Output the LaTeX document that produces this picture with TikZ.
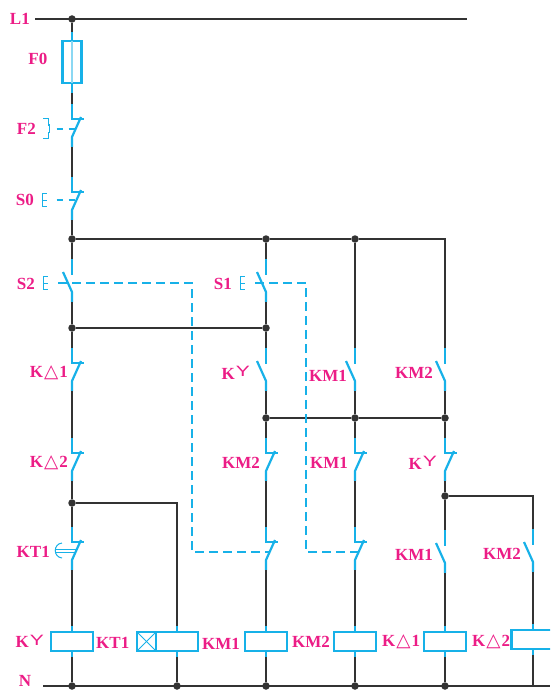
\documentclass[tikz,border=0pt]{standalone}
\usepackage{fontspec}
\usepackage{xcolor}
\usetikzlibrary{positioning}
\setmainfont{Liberation Serif}
\newfontfamily\trifont{DejaVu Sans}
\newfontfamily\wyefont{Liberation Sans}
\definecolor{wirecol}{HTML}{333333}
\definecolor{symcol}{HTML}{17B1E8}
\definecolor{lblcol}{HTML}{EC1C86}
\newcommand{\wye}{\hspace{1pt}\raisebox{2.5pt}{\scalebox{1.4}[1]{\fontsize{15}{15}\wyefont\mdseries Y}}}
\newcommand{\tri}{{\hspace{1pt}\fontsize{18.5}{18}\trifont\mdseries △\hspace{1pt}}}
\tikzset{
  wire/.style={draw=wirecol,line width=2.2pt},
  sym/.style={draw=symcol,line width=2.2pt},
  thinsym/.style={draw=symcol,line width=1pt},
  link/.style={draw=symcol,line width=1.1pt,dash pattern=on 9pt off 5pt},
  shortlink/.style={draw=symcol,line width=1.1pt,dash pattern=on 6pt off 6pt},
  dot/.style={circle,fill=wirecol,inner sep=0pt,minimum size=7.5pt},
  coil/.style={rectangle,sym,fill=white,minimum width=42pt,minimum height=19pt,inner sep=0pt,outer sep=0pt},
  lbl/.style={text=lblcol,inner sep=0pt,font=\fontsize{17}{18}\selectfont\bfseries},
  ncontact/.pic={
    \draw[sym] (0,0) -- (0,15) -- (12,15);
    \draw[sym] (9,13) -- (0,33) -- (0,43);
    \coordinate (-top) at (0,0);
    \coordinate (-bot) at (0,43);
    \coordinate (-mid) at (0,25);
    \coordinate (-link) at (4,25);
  },
  ocontact/.pic={
    \draw[sym] (0,0) -- (0,16);
    \draw[sym] (-9,13) -- (0,33) -- (0,43);
    \coordinate (-top) at (0,0);
    \coordinate (-bot) at (0,43);
    \coordinate (-mid) at (0,25);
    \coordinate (-link) at (-4,25);
  },
  button/.pic={
    \draw[thinsym] (4.5,-6.5) -- (0,-6.5) -- (0,6.5) -- (4.5,6.5);
    \draw[thinsym] (0,0) -- (4.5,0);
    \coordinate (-link) at (15,0);
  },
}
\begin{document}
\begin{tikzpicture}[x=1pt,y=-1pt]
  \clip[use as bounding box] (0,0) rectangle (550,690);
  \node[dot] (jL) at (72,19) {};
  \node[dot] (j1) at (72,239) {};
  \node[dot] (j2) at (266,239) {};
  \node[dot] (j3) at (355,239) {};
  \node[dot] (j4) at (72,328) {};
  \node[dot] (j5) at (266,328) {};
  \node[dot] (j6) at (266,418) {};
  \node[dot] (j7) at (355,418) {};
  \node[dot] (j8) at (445,418) {};
  \node[dot] (j9) at (445,496) {};
  \node[dot] (j10) at (72,503) {};
  \node[dot] (n1) at (72,686) {};
  \node[dot] (n2) at (177,686) {};
  \node[dot] (n3) at (266,686) {};
  \node[dot] (n4) at (355,686) {};
  \node[dot] (n5) at (445,686) {};
  \coordinate (n6) at (533,686);
  \coordinate (Lstart) at (35,19);
  \coordinate (Lend) at (467,19);
  \coordinate (Nstart) at (43,686);
  \coordinate (Nend) at (550,686);

  \node[rectangle,sym,minimum width=19pt,minimum height=42pt,inner sep=0pt,outer sep=0pt] (fuse) at (72,62) {};
  \draw[draw=symcol!50,line width=1.5pt] (fuse.north) -- (fuse.south);
  \draw[sym] (fuse.north) -- ++(0,-9) coordinate (fusetop);
  \draw[sym] (fuse.south) -- ++(0,10) coordinate (fusebot);

  \pic (f2) at (72,104) {ncontact};
  \pic (s0) at (72,177) {ncontact};
  \pic (s2) at (72,259) {ocontact};
  \pic (s1) at (266,259) {ocontact};
  \pic (ka1) at (72,348) {ncontact};
  \pic (ky1) at (266,348) {ocontact};
  \pic (km1a) at (355,348) {ocontact};
  \pic (km2a) at (445,348) {ocontact};
  \pic (ka2) at (72,438) {ncontact};
  \pic (km2b) at (266,438) {ncontact};
  \pic (km1b) at (355,438) {ncontact};
  \pic (ky2) at (445,438) {ncontact};
  \pic (kt1) at (72,527) {ncontact};
  \pic (km2c) at (266,527) {ncontact};
  \pic (km1c) at (355,527) {ncontact};
  \pic (km1d) at (445,530) {ocontact};
  \pic (km2d) at (533,529) {ocontact};

  \node[coil] (coil1) at (72,641.5) {};
  \node[coil] (coil2) at (177,641.5) {};
  \node[coil] (coil3) at (266,641.5) {};
  \node[coil] (coil4) at (355,641.5) {};
  \node[coil] (coil5) at (445,641.5) {};
  \node[coil,minimum width=43pt] (coil6) at (533,639.5) {};
  \node[coil,minimum width=19pt] (timer) [left = 0pt of coil2] {};
  \draw[thinsym] (timer.north west) -- (timer.south east);
  \draw[thinsym] (timer.south west) -- (timer.north east);
  \foreach \n in {coil1,coil2,coil3,coil4,coil5,coil6} {
    \draw[sym] (\n.north) -- ++(0,-6) coordinate (\n top);
    \draw[sym] (\n.south) -- ++(0,6) coordinate (\n bot);
  }

  \draw[wire] (Lstart) -- (Lend);
  \draw[wire] (Nstart) -- (Nend);
  \draw[wire] (jL) -- (fusetop);
  \draw[wire] (fusebot) -- (f2-top);
  \draw[wire] (f2-bot) -- (s0-top);
  \draw[wire] (s0-bot) -- (j1);
  \draw[wire] (j1) -- (s2-top);
  \draw[wire] (s2-bot) -- (j4);
  \draw[wire] (j4) -- (ka1-top);
  \draw[wire] (ka1-bot) -- (ka2-top);
  \draw[wire] (ka2-bot) -- (j10);
  \draw[wire] (j10) -- (kt1-top);
  \draw[wire] (kt1-bot) -- (coil1top);
  \draw[wire] (coil1bot) -- (n1);
  \draw[wire] (j10) -| (coil2top);
  \draw[wire] (coil2bot) -- (n2);
  \draw[wire] (j1) -- (j2);
  \draw[wire] (j2) -- (j3);
  \draw[wire] (j3) -| (km2a-top);
  \draw[wire] (j4) -- (j5);
  \draw[wire] (j2) -- (s1-top);
  \draw[wire] (s1-bot) -- (j5);
  \draw[wire] (j5) -- (ky1-top);
  \draw[wire] (ky1-bot) -- (j6);
  \draw[wire] (j6) -- (j7);
  \draw[wire] (j7) -- (j8);
  \draw[wire] (j6) -- (km2b-top);
  \draw[wire] (km2b-bot) -- (km2c-top);
  \draw[wire] (km2c-bot) -- (coil3top);
  \draw[wire] (coil3bot) -- (n3);
  \draw[wire] (j3) -- (km1a-top);
  \draw[wire] (km1a-bot) -- (j7);
  \draw[wire] (j7) -- (km1b-top);
  \draw[wire] (km1b-bot) -- (km1c-top);
  \draw[wire] (km1c-bot) -- (coil4top);
  \draw[wire] (coil4bot) -- (n4);
  \draw[wire] (km2a-bot) -- (j8);
  \draw[wire] (j8) -- (ky2-top);
  \draw[wire] (ky2-bot) -- (j9);
  \draw[wire] (j9) -- (km1d-top);
  \draw[wire] (km1d-bot) -- (coil5top);
  \draw[wire] (coil5bot) -- (n5);
  \draw[wire] (j9) -| (km2d-top);
  \draw[wire] (km2d-bot) -- (coil6top);
  \draw[wire] (coil6bot) -- (n6);

  \pic (btn0) at (42,200) {button};
  \pic (btn2) at (43,283) {button};
  \pic (btn1) at (240,283) {button};
  \draw[thinsym] (43,119) -- (48,119) -- (48,125) -- (49.5,125) -- (49.5,132) -- (48,132) -- (48,138) -- (43,138);
  \coordinate (f2start) at (56.5,129);
  \coordinate (s0start) at (56.5,200);
  \coordinate (f2end) at (75,129);
  \coordinate (s0end) at (75,200);
  \coordinate (turn2a) at (192,283);
  \coordinate (turn2b) at (192,552);
  \coordinate (turn1a) at (306,283);
  \coordinate (turn1b) at (306,552);
  \draw[shortlink] (f2start) -- (f2end);
  \draw[shortlink] (s0start) -- (s0end);
  \draw[link] (btn2-link) -- (turn2a) -- (turn2b) -- (km2c-link);
  \draw[link] (btn1-link) -- (turn1a) -- (turn1b) -- (km1c-link);
  \draw[thinsym] (62,543) .. controls (53,544) and (53,557) .. (62,558);
  \draw[draw=symcol,line width=.8pt] (56,549) -- (76,549);
  \draw[draw=symcol,line width=.8pt] (56,552) -- (75,552);

  \node[lbl] (lblL1) [left = 5pt of Lstart] {L1};
  \node[lbl] (lblN) at (25,681) {N};
  \node[lbl,yshift=3pt] (lblF0) [left = 15pt of fuse] {F0};
  \node[lbl] (lblF2) [left = 36pt of f2-mid] {F2};
  \node[lbl,yshift=2pt] (lblS0) [left = 38pt of s0-mid] {S0};
  \node[lbl] (lblS2) [left = 37pt of s2-mid] {S2};
  \node[lbl] (lblS1) [left = 34pt of s1-mid] {S1};
  \node[lbl] (lblKa1) [left = 4pt of ka1-mid] {K\tri 1};
  \node[lbl] (lblKy1) [left = 16pt of ky1-mid] {K\wye};
  \node[lbl,yshift=-3pt] (lblKm1a) [left = 8pt of km1a-mid] {KM1};
  \node[lbl] (lblKm2a) [left = 12pt of km2a-mid] {KM2};
  \node[lbl] (lblKa2) [left = 4pt of ka2-mid] {K\tri 2};
  \node[lbl] (lblKm2b) [left = 6pt of km2b-mid] {KM2};
  \node[lbl] (lblKm1b) [left = 7pt of km1b-mid] {KM1};
  \node[lbl] (lblKy2) [left = 8pt of ky2-mid] {K\wye};
  \node[lbl] (lblKt1) [left = 22pt of kt1-mid] {KT1};
  \node[lbl] (lblKm1d) [left = 12pt of km1d-mid] {KM1};
  \node[lbl] (lblKm2d) [left = 12pt of km2d-mid] {KM2};
  \node[lbl] (lblC1) [left = 7pt of coil1] {K\wye};
  \node[lbl,yshift=-1.5pt] (lblC2) [right = 3pt of coil1] {KT1};
  \node[lbl,yshift=-2.5pt] (lblC3) [right = 4pt of coil2] {KM1};
  \node[lbl] (lblC4) [right = 5pt of coil3] {KM2};
  \node[lbl] (lblC5) [right = 6pt of coil4] {K\tri 1};
  \node[lbl] (lblC6) [right = 6pt of coil5] {K\tri 2};
\end{tikzpicture}
\end{document}
